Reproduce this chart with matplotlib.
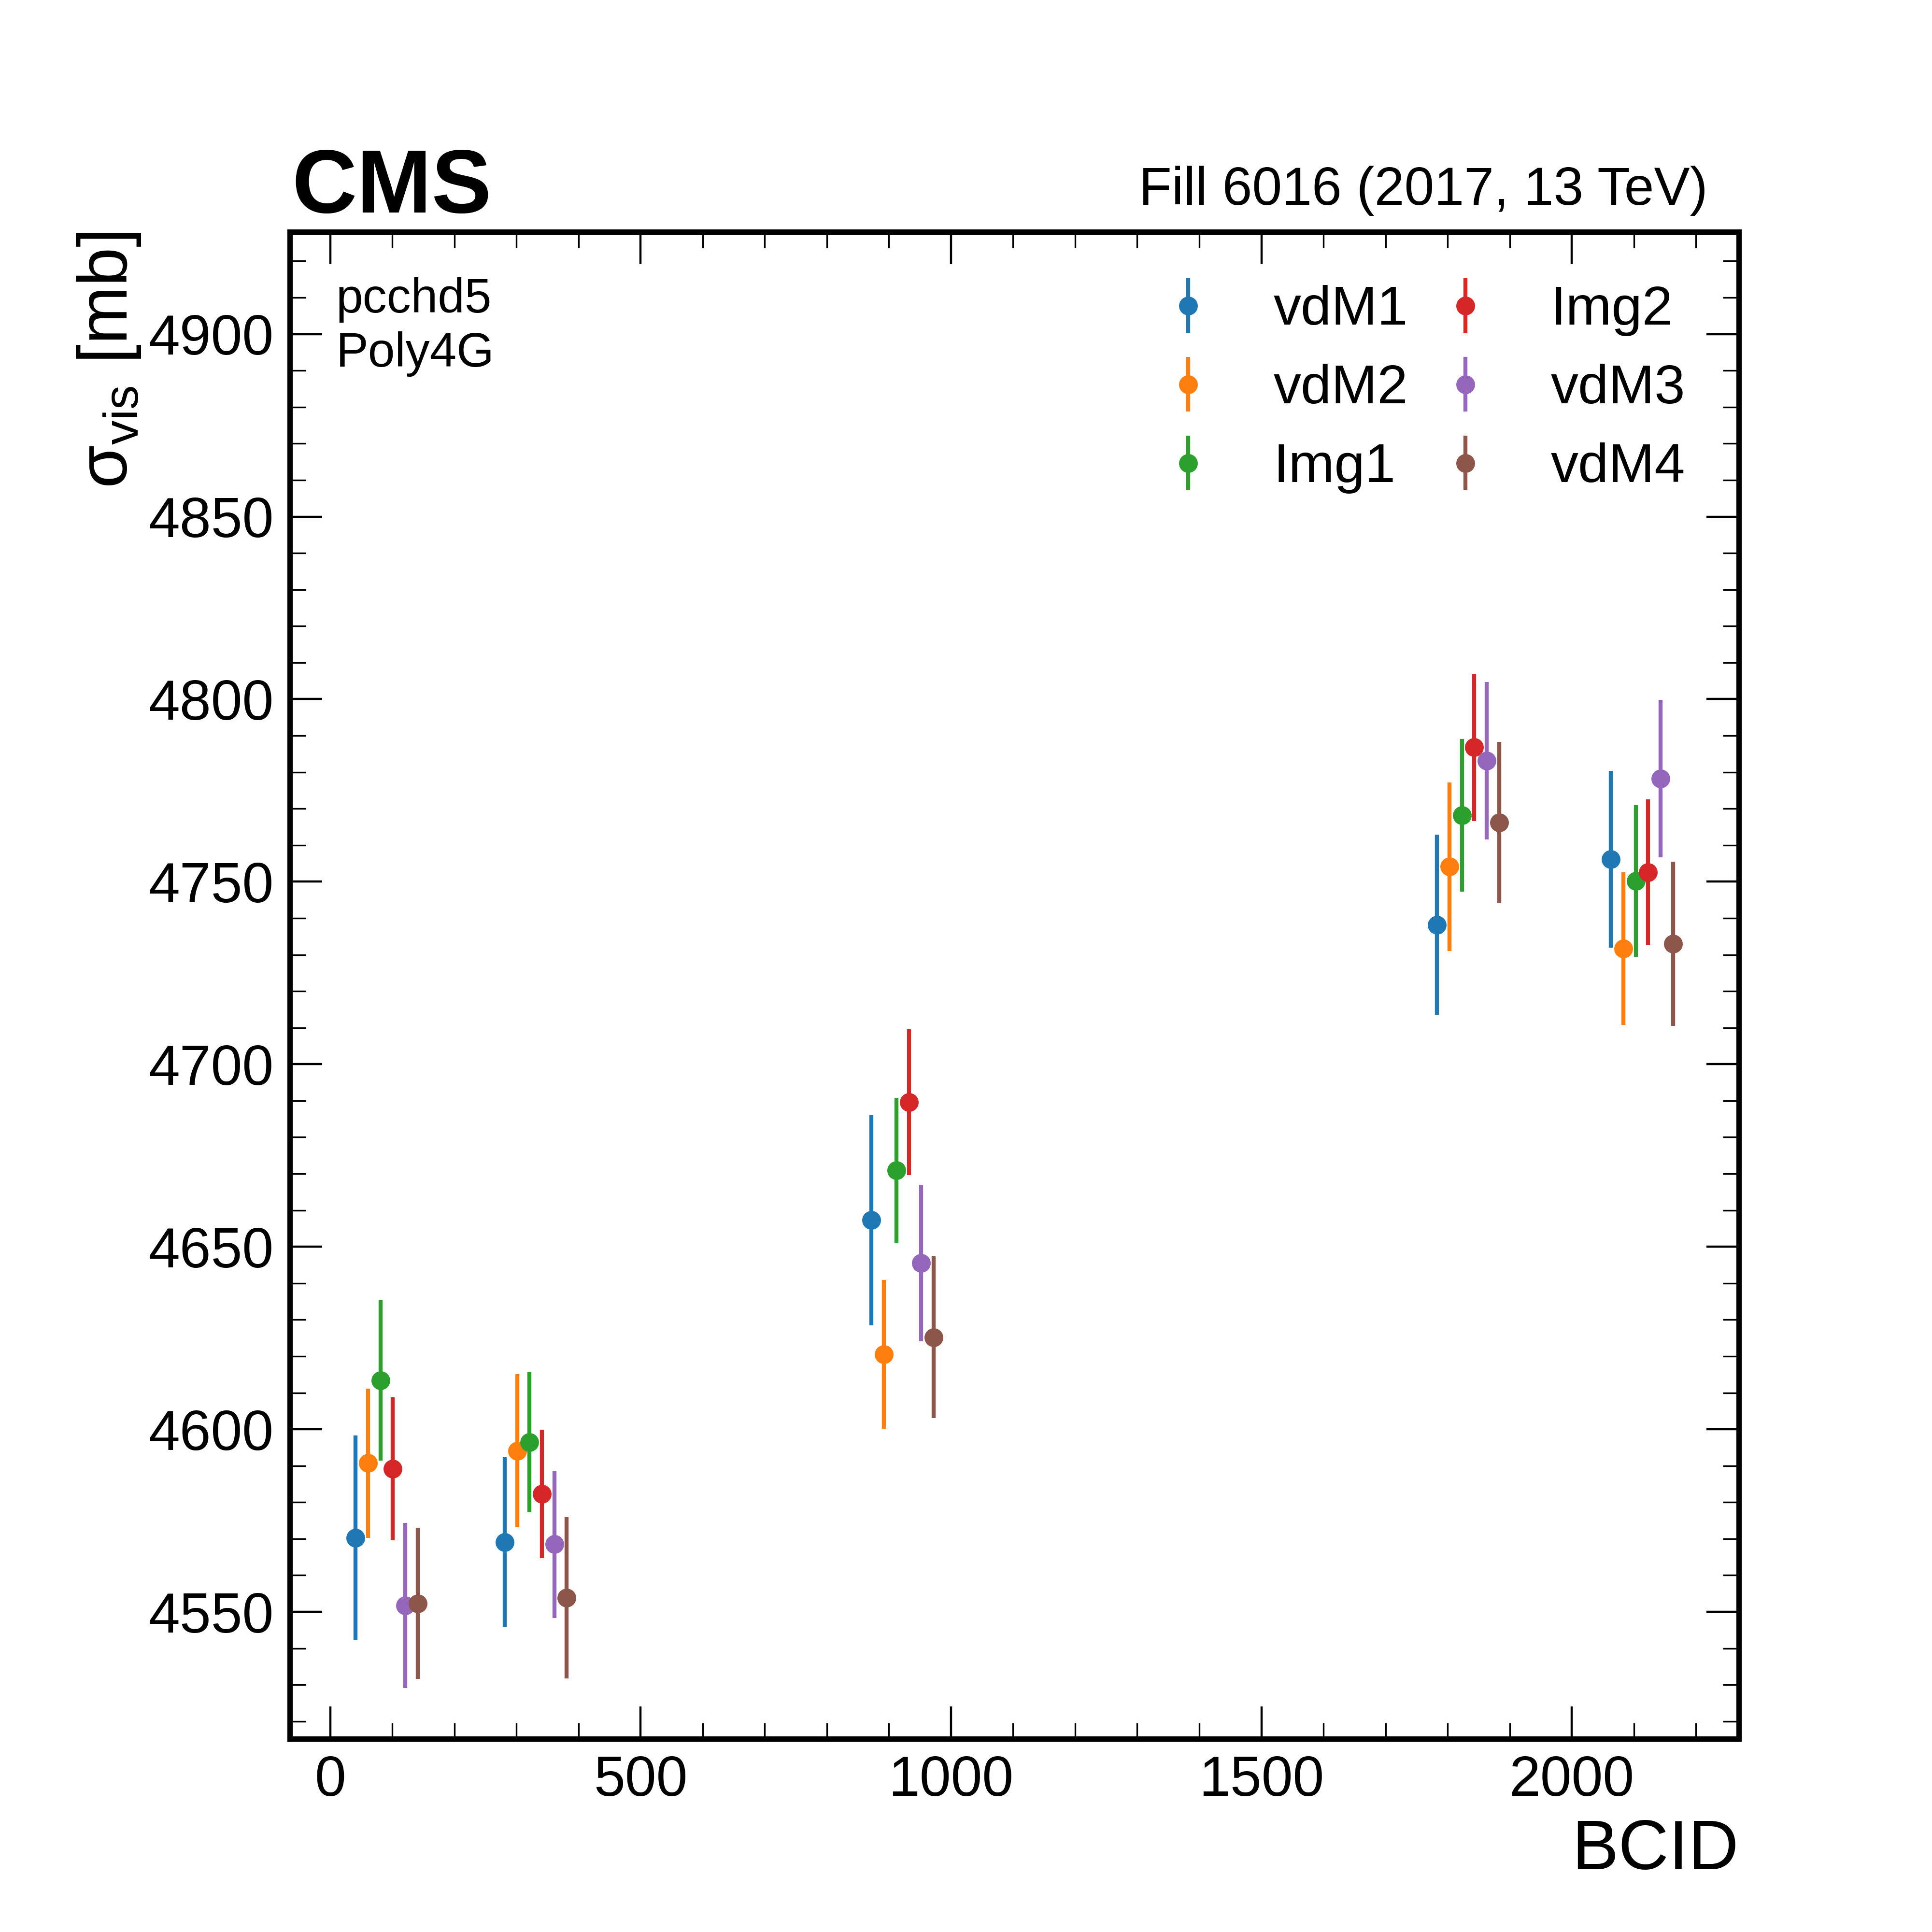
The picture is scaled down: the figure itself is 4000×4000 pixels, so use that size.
import matplotlib

matplotlib.use("Agg")
import matplotlib.pyplot as plt
import numpy as np
from matplotlib.ticker import MultipleLocator

plt.rcParams["font.family"] = ["Liberation Sans", "DejaVu Sans"]
plt.rcParams["mathtext.default"] = "regular"

# colliding bunches used in the fit, each scan shifted by 20 BCIDs
bcids = np.array([41, 281, 872, 1783, 2063])
scan_shift = 20
scans = ["vdM1", "vdM2", "Img1", "Img2", "vdM3", "vdM4"]

vdm1 = [4570.3, 4569.1, 4657.3, 4738.2, 4756.1]
vdm1_err = [28.0, 23.2, 28.8, 24.7, 24.2]
vdm2 = [4590.7, 4594.1, 4620.5, 4754.1, 4731.6]
vdm2_err = [20.4, 21.0, 20.4, 23.1, 20.9]
img1 = [4613.4, 4596.5, 4670.9, 4768.2, 4750.2]
img1_err = [22.0, 19.2, 19.9, 20.9, 20.8]
img2 = [4589.2, 4582.3, 4689.6, 4786.8, 4752.6]
img2_err = [19.6, 17.6, 20.0, 20.2, 19.9]
vdm3 = [4551.7, 4568.5, 4645.5, 4783.1, 4778.2]
vdm3_err = [22.6, 20.2, 21.4, 21.6, 21.6]
vdm4 = [4552.3, 4553.8, 4625.2, 4766.2, 4733.0]
vdm4_err = [20.7, 22.1, 22.2, 22.1, 22.5]

values = [vdm1, vdm2, img1, img2, vdm3, vdm4]
errors = [vdm1_err, vdm2_err, img1_err, img2_err, vdm3_err, vdm4_err]
y_top = 4928

fig = plt.figure(figsize=(10, 10), dpi=400)
ax = fig.add_axes([0.15, 0.1, 0.75, 0.78])

for i, (name, val, err) in enumerate(zip(scans, values, errors)):
    ax.errorbar(bcids + i * scan_shift, val, yerr=err, fmt="o", ms=6,
                lw=1.5, capsize=0, label=name)

ax.set_ylim(top=y_top)

ax.xaxis.set_major_locator(MultipleLocator(500))
ax.xaxis.set_minor_locator(MultipleLocator(100))
ax.yaxis.set_major_locator(MultipleLocator(50))
ax.yaxis.set_minor_locator(MultipleLocator(10))
ax.tick_params(which="both", direction="in", top=True, right=True,
               labelsize=21, pad=6)
ax.tick_params(which="major", length=12, width=0.8)
ax.tick_params(which="minor", length=6, width=0.6)
for s in ax.spines.values():
    s.set_linewidth(2)

ax.set_xlabel("BCID", fontsize=26, loc="right")
ax.set_ylabel("σ$_{vis}$ [mb]", fontsize=26, loc="top", labelpad=2.2)

fig.text(0.151, 0.890, "CMS", fontsize=33.5, fontweight="bold",
         ha="left", va="baseline")
fig.text(0.884, 0.894, "Fill 6016 (2017, 13 TeV)", fontsize=20,
         ha="right", va="baseline")

ax.text(0.032, 0.97, "pcchd5\nPoly4G", fontsize=18, ha="left", va="top",
        linespacing=1.25, transform=ax.transAxes)

ax.legend(ncol=2, loc="upper right", fontsize=20.5, frameon=False,
          handlelength=1.5, handletextpad=0.8, columnspacing=0.3,
          labelspacing=0.5, borderaxespad=0.57)

fig.savefig("out.png", dpi=400)
